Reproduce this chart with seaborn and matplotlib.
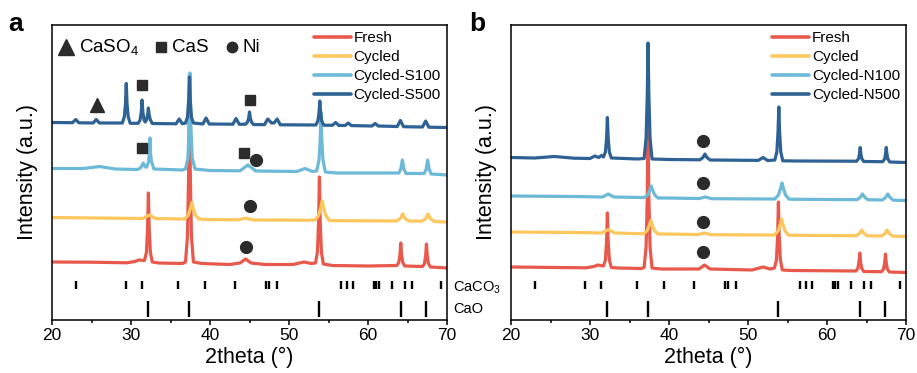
import numpy as np
import pandas as pd
import matplotlib
matplotlib.use("Agg")
import matplotlib.pyplot as plt
import seaborn as sns

# ---------------- data: traced XRD patterns (2theta, stacked intensity a.u.) ----------------
# Panel a: sulfur-exposed samples
fresh_a_x = [20, 25, 29.5, 30.5, 31.0, 31.7, 31.95, 32.1, 32.2, 32.3, 32.45, 32.7, 33.5, 36.5, 36.9, 37.15,
             37.3, 37.4, 37.5, 37.65, 37.9, 39.0, 42.5, 43.8, 44.5, 45.2, 47, 50.5, 51.9, 52.8, 53.35,
             53.6, 53.75, 53.85, 53.95, 54.1, 54.35, 55.5, 60, 63.65, 63.9, 64.05, 64.15, 64.25, 64.4,
             64.65, 66.9, 67.15, 67.3, 67.4, 67.5, 67.65, 67.9, 70]
fresh_a_y = [58, 57.8, 57.2, 58.5, 60, 59.5, 67.5, 92, 127, 92, 67.5, 58, 57, 56.5, 58, 84,
             150, 245, 150, 84, 58, 56.5, 55.5, 57, 61, 57, 55.5, 55.5, 58, 56.5, 57,
             68, 99, 143, 99, 68, 56, 54.5, 54, 54.5, 57.5, 65.5, 77, 65.5, 57.5,
             54, 53.5, 56.5, 64.5, 76, 64.5, 56.5, 53, 52]

cycled_a_x = [20, 28, 31.5, 32.3, 33.1, 36.3, 36.8, 37.25, 37.5, 37.7, 37.9, 38.15, 38.6, 39.5, 43.5,
              44.5, 45.5, 52.5, 53.3, 53.75, 54.0, 54.2, 54.4, 54.65, 55.1, 56.5, 63.6, 64.1, 64.4,
              64.7, 65.2, 66.8, 67.3, 67.6, 67.9, 68.4, 70]
cycled_a_y = [102.5, 101.8, 101.5, 105, 101.5, 101, 101, 105, 111, 117.5, 111, 105, 101, 100.5, 100.2,
              101.8, 100, 99.8, 100, 104.5, 111.5, 119, 111.5, 104.5, 99.5, 99.3, 99, 101.5, 106,
              101.5, 99, 98.8, 101.3, 106, 101.3, 98.5, 98]

s100_a_x = [20, 24, 26, 28, 30.8, 31.2, 31.55, 31.8, 32.0, 32.2, 32.32, 32.4, 32.48, 32.6, 32.9, 36.5,
            36.9, 37.2, 37.37, 37.47, 37.57, 37.75, 38.1, 40, 43.8, 44.8, 45.8, 51, 52.0, 53, 53.5,
            53.8, 53.95, 54.05, 54.15, 54.3, 54.6, 56, 63.9, 64.15, 64.35, 64.55, 64.8, 67.1, 67.35,
            67.55, 67.75, 68.0, 70]
s100_a_y = [151.5, 151.5, 153.5, 151, 150.5, 152, 157, 153, 153, 158, 166, 182, 166, 158, 151, 150,
            151, 162, 195, 247, 195, 162, 151, 149.5, 149.2, 155, 149, 148.5, 151.5, 148.5, 149,
            160, 180, 208, 180, 160, 148, 147, 147, 151, 160, 151, 146.5, 146.5, 150.5,
            160, 150.5, 146, 145]

s500_a_x = [20, 22.6, 23.0, 23.4, 25.2, 25.6, 26.0, 28.9, 29.15, 29.3, 29.4, 29.5, 29.65, 29.9, 30.9,
            31.15, 31.3, 31.4, 31.5, 31.65, 31.8, 31.95, 32.1, 32.2, 32.3, 32.45, 32.7, 35.7, 36.1,
            36.5, 36.9, 37.15, 37.3, 37.4, 37.5, 37.65, 37.9, 39.1, 39.5, 39.9, 42.9, 43.3, 43.7,
            44.5, 44.75, 44.9, 45.0, 45.1, 45.25, 45.5, 46.9, 47.3, 47.8, 48.1, 48.5, 48.9, 53.4,
            53.65, 53.8, 53.9, 54.0, 54.15, 54.4, 55.5, 55.9, 56.3, 57.1, 57.5, 57.9, 60.5, 60.9,
            61.3, 63.7, 64.1, 64.5, 66.9, 67.3, 67.7, 70]
s500_a_y = [197.5, 197.3, 200.5, 197.2, 197, 200.5, 197, 197, 203, 216, 236.5, 216, 203, 196.7, 196.7,
            200, 208, 220, 208, 200, 198, 200, 205, 212, 205, 200, 196.5, 196.2, 201,
            196.2, 197, 203, 220, 243, 220, 203, 197, 196, 202, 196, 195.8, 201.5, 195.7,
            195.8, 198, 202, 208, 202, 198, 195.5, 195.3, 201, 197, 197, 201, 195.2, 195,
            199, 207, 219, 207, 199, 194.8, 194.7, 197.5, 194.6, 194.5, 197, 194.4, 194, 196.5,
            194, 193.5, 199.5, 193.3, 193, 199, 192.8, 192.5]

# Panel b: ammonia-exposed samples
fresh_b_x = [20, 29.5, 30.5, 31.0, 31.7, 31.95, 32.1, 32.2, 32.3, 32.45, 32.7, 33.5, 36.5, 36.85, 37.1,
             37.25, 37.35, 37.45, 37.6, 37.85, 39.0, 43.8, 44.5, 45.2, 50.5, 51.9, 52.8, 53.35, 53.6,
             53.75, 53.85, 53.95, 54.1, 54.35, 55.5, 63.65, 63.9, 64.05, 64.15, 64.25, 64.4, 64.65,
             66.9, 67.15, 67.3, 67.4, 67.5, 67.65, 67.9, 70]
fresh_b_y = [53, 52.2, 53.5, 55, 54, 60, 79, 107, 79, 60, 52.5, 52, 51.5, 52.5, 73,
             123, 195, 123, 73, 52, 51, 51, 55, 51, 50, 53, 51, 52, 60,
             84, 118, 84, 60, 50, 49.5, 49, 51.5, 58, 67, 58, 51.5, 48.5,
             48.3, 50.8, 57, 66, 57, 50.8, 48, 47.5]

cycled_b_x = [20, 28, 31.5, 32.3, 33.1, 36.4, 36.8, 37.25, 37.5, 37.7, 37.9, 38.15, 38.6, 39.5, 43.7,
              44.5, 45.3, 52.5, 53.35, 53.8, 54.05, 54.25, 54.45, 54.7, 55.15, 56.5, 63.7, 64.1, 64.4,
              64.7, 65.1, 66.9, 67.3, 67.6, 67.9, 68.3, 70]
cycled_b_y = [88, 87.5, 87, 90.5, 87, 86.3, 86.3, 89.5, 94.5, 99.5, 94.5, 89.5, 86, 86, 85.5,
              87, 85.3, 85, 85, 89, 95, 101, 95, 89, 84.7, 84.7, 84.3, 86.5, 90,
              86.5, 84.2, 84, 86.3, 90, 86.3, 83.8, 83.5]

n100_b_x = [20, 28, 31.6, 32.3, 33.0, 36.5, 36.9, 37.3, 37.55, 37.75, 37.95, 38.2, 38.6, 39.5, 43.8,
            44.6, 45.4, 52.8, 53.4, 53.85, 54.1, 54.3, 54.5, 54.75, 55.2, 56.5, 63.8, 64.2, 64.5,
            64.8, 65.2, 67.0, 67.4, 67.7, 68.0, 68.4, 70]
n100_b_y = [124, 123.5, 123, 126, 123, 122.5, 122.5, 125, 129.5, 134, 129.5, 125, 122, 122, 121.5,
            123, 121.3, 121, 121, 125, 131, 137, 131, 125, 120.8, 120.7, 120.3, 122.5, 126,
            122.5, 120.3, 120, 122.3, 126, 122.3, 119.8, 119.5]

n500_b_x = [20, 23, 25.5, 28, 30.0, 30.6, 31.1, 31.45, 31.7, 31.95, 32.1, 32.2, 32.3, 32.45, 32.7, 36.0,
            36.85, 37.1, 37.25, 37.35, 37.45, 37.6, 37.85, 40, 43.9, 44.3, 44.55, 44.8, 45.2, 51.3,
            51.9, 52.5, 53.4, 53.65, 53.8, 53.9, 54.0, 54.15, 54.4, 56, 63.75, 64.0, 64.12, 64.2,
            64.28, 64.4, 64.65, 67.05, 67.3, 67.42, 67.5, 67.58, 67.7, 67.95, 70]
n500_b_y = [162.5, 162, 163.5, 161.8, 161.5, 164, 162.5, 164.5, 163, 168, 182, 202.5, 182, 168, 162, 161,
            161.5, 182, 225, 277, 225, 182, 161, 160.5, 160.2, 162.5, 166, 162.5, 160, 159.6,
            162.5, 159.4, 160, 168, 188, 213, 188, 168, 159.2, 159, 158.8, 161.5, 166.5, 172.5,
            166.5, 161.5, 158.5, 158.3, 161, 166.5, 172.5, 166.5, 161, 158, 157.5]

# Reference patterns (peak positions, 2theta)
caco3_peaks = [23.0, 29.4, 31.4, 36.0, 39.4, 43.2, 47.1, 47.5, 48.5, 56.6, 57.4, 58.1,
               60.7, 61.0, 61.4, 63.1, 64.7, 65.6, 69.2]
cao_peaks = [32.2, 37.35, 53.85, 64.15, 67.4]

labels_a = ["Fresh", "Cycled", "Cycled-S100", "Cycled-S500"]
labels_b = ["Fresh", "Cycled", "Cycled-N100", "Cycled-N500"]
colors = ["#E8594C", "#FDC75E", "#6CBAD8", "#2E6294"]

# phase markers: (2theta, intensity)
caso4_a = [(25.65, 215)]
cas_a = [(31.4, 235), (45.06, 220), (31.35, 172), (44.3, 167)]
ni_a = [(45.8, 160), (45.06, 114), (44.56, 73)]
ni_b = [(44.35, 179), (44.35, 137), (44.35, 98), (44.35, 68)]

# ---------------- styling ----------------
sns.set_style("ticks")
plt.rcParams["font.family"] = ["Liberation Sans", "DejaVu Sans"]
plt.rcParams["mathtext.fontset"] = "custom"
plt.rcParams["mathtext.rm"] = "Liberation Sans"
plt.rcParams["mathtext.it"] = "Liberation Sans:italic"
plt.rcParams["mathtext.bf"] = "Liberation Sans:bold"
plt.rcParams["mathtext.default"] = "regular"
for key in ["text.color", "axes.labelcolor", "xtick.color", "ytick.color", "axes.edgecolor"]:
    plt.rcParams[key] = "black"

W, H = 917, 373
fig = plt.figure(figsize=(W / 100, H / 100), dpi=100)
ax_a = fig.add_axes([52 / W, 1 - 320 / H, 395 / W, 295 / H])
ax_b = fig.add_axes([511 / W, 1 - 320 / H, 395 / W, 295 / H])

mk_color = "#2B2B2B"


def build_frame(xs, ys, labels):
    parts = []
    for x, y, lab in zip(xs, ys, labels):
        parts.append(pd.DataFrame({"2theta": x, "Intensity": y, "sample": lab}))
    return pd.concat(parts, ignore_index=True)


def draw_panel(ax, df, labels):
    sns.lineplot(data=df, x="2theta", y="Intensity", hue="sample", hue_order=labels,
                 palette=colors, sort=False, estimator=None, lw=2.3, ax=ax, legend=False)
    # reference sticks
    ax.vlines(caco3_peaks, 31, 39, color="black", lw=1.7)
    ax.vlines(cao_peaks, 3.3, 19.3, color="black", lw=1.7)

    ax.set_xlim(20, 70)
    ax.set_ylim(0, 295)
    ax.set_xticks(range(20, 71, 10))
    ax.set_xticks(range(25, 70, 10), minor=True)
    ax.set_yticks([])
    ax.tick_params(axis="x", which="major", direction="out", length=3.5, width=1.1,
                   labelsize=12.5, pad=2, colors="black")
    ax.tick_params(axis="x", which="minor", direction="out", length=2.2, width=1.1, colors="black")
    for sp in ax.spines.values():
        sp.set_visible(True)
        sp.set_linewidth(1.1)
        sp.set_color("black")
    ax.set_xlabel("2theta (°)", fontsize=15.5, labelpad=3, color="black")
    ax.set_ylabel("Intensity (a.u.)", fontsize=15.5, labelpad=10, color="black")

    handles = [plt.Line2D([], [], color=c, lw=2.6) for c in colors]
    leg = ax.legend(handles, labels, loc="upper right", bbox_to_anchor=(1.0, 1.0), frameon=False,
                    fontsize=11, handlelength=2.4, handletextpad=0.2, labelspacing=0.33,
                    borderaxespad=0.2, borderpad=0.2)
    for t in leg.get_texts():
        t.set_color("black")


df_a = build_frame([fresh_a_x, cycled_a_x, s100_a_x, s500_a_x],
                   [fresh_a_y, cycled_a_y, s100_a_y, s500_a_y], labels_a)
df_b = build_frame([fresh_b_x, cycled_b_x, n100_b_x, n500_b_x],
                   [fresh_b_y, cycled_b_y, n100_b_y, n500_b_y], labels_b)

draw_panel(ax_a, df_a, labels_a)
draw_panel(ax_b, df_b, labels_b)

# panel letters
fig.text(8 / W, 1 - 31 / H, "a", fontsize=19, fontweight="bold", va="baseline", ha="left")
fig.text(469 / W, 1 - 31 / H, "b", fontsize=19, fontweight="bold", va="baseline", ha="left")

# phase markers
for x, y in caso4_a:
    ax_a.plot(x, y, marker="^", ms=10, color=mk_color, ls="none")
for x, y in cas_a:
    ax_a.plot(x, y, marker="s", ms=7.5, color=mk_color, ls="none")
for x, y in ni_a:
    ax_a.plot(x, y, marker="o", ms=8.5, color=mk_color, ls="none")
for x, y in ni_b:
    ax_b.plot(x, y, marker="o", ms=8.5, color=mk_color, ls="none")

# symbol key, panel a
key_y = 273
ax_a.plot(21.73, key_y, marker="^", ms=11, color=mk_color, ls="none")
ax_a.text(23.4, key_y, "CaSO$_4$", fontsize=13.5, va="center", ha="left")
ax_a.plot(33.76, key_y, marker="s", ms=7.5, color=mk_color, ls="none")
ax_a.text(35.2, key_y, "CaS", fontsize=13.5, va="center", ha="left")
ax_a.plot(42.8, key_y, marker="o", ms=7.5, color=mk_color, ls="none")
ax_a.text(44.1, key_y, "Ni", fontsize=13.5, va="center", ha="left")

# reference pattern names between panels
fig.text(453 / W, 1 - 288 / H, "CaCO$_3$", fontsize=10.5, va="center", ha="left")
fig.text(453 / W, 1 - 309 / H, "CaO", fontsize=10.5, va="center", ha="left")

fig.savefig("out.png", dpi=100)
